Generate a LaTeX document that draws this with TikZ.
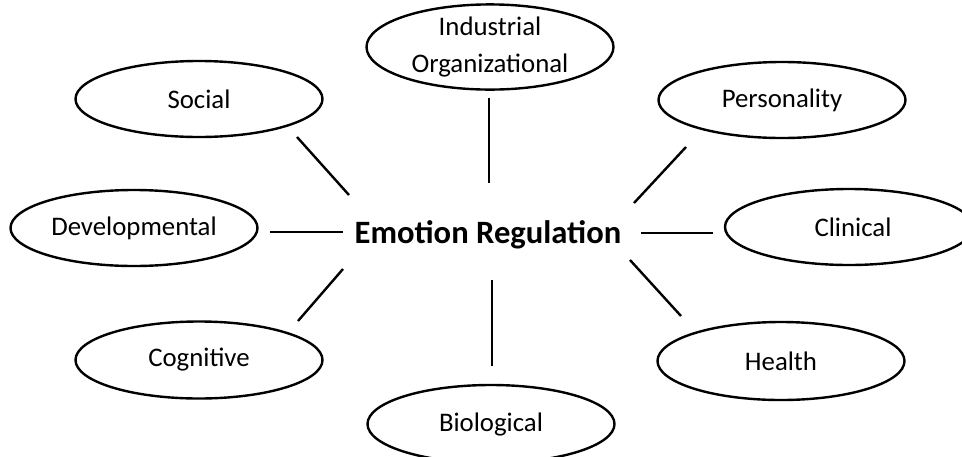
\documentclass[tikz,border=0pt]{standalone}
\usepackage{fontspec}
\setmainfont{Carlito}
\usetikzlibrary{shapes.geometric}
\begin{document}
\begin{tikzpicture}[x=1pt,y=-1pt,
  field/.style={draw=black, line width=2.4pt, ellipse, inner sep=0pt,
    minimum width=247pt, minimum height=76pt, align=center,
    font=\fontsize{26.8}{37}\selectfont},
  link/.style={draw=black, line width=2.4pt}]
\useasboundingbox (0,0) rectangle (962,456);
\node[field] (social) at (199,99) {Social};
\node[field, minimum height=78pt] (indus) at (490,47) {Industrial\\Organizational};
\node[field] (person) at (782,100) {Personality};
\node[field] (devel) at (134,228) {Developmental};
\node[field, minimum width=248pt] (clin) at (849,227) {\hspace*{8pt}Clinical};
\node[field, minimum height=77pt] (cogn) at (199,360) {Cognitive};
\node[field, minimum height=78pt] (health) at (781,361) {Health};
\node[field, minimum height=78pt] (bio) at (491,424) {Biological};
\node[font=\fontsize{32.6}{36}\selectfont\bfseries] (er) at (488,235) {Emotion Regulation};
\coordinate (s1) at (297,137); \coordinate (s2) at (349,195);
\coordinate (i1) at (489,98);  \coordinate (i2) at (489,183);
\coordinate (p1) at (686,147); \coordinate (p2) at (634,203);
\coordinate (d1) at (270,232); \coordinate (d2) at (343,232);
\coordinate (c1) at (641,233); \coordinate (c2) at (713,233);
\coordinate (g1) at (343,269); \coordinate (g2) at (298,321);
\coordinate (b1) at (492,280); \coordinate (b2) at (492,366);
\coordinate (h1) at (630,260); \coordinate (h2) at (681,316);
\draw[link] (s1) -- (s2);
\draw[link] (i1) -- (i2);
\draw[link] (p1) -- (p2);
\draw[link] (d1) -- (d2);
\draw[link] (c1) -- (c2);
\draw[link] (g1) -- (g2);
\draw[link] (b1) -- (b2);
\draw[link] (h1) -- (h2);
\end{tikzpicture}
\end{document}
